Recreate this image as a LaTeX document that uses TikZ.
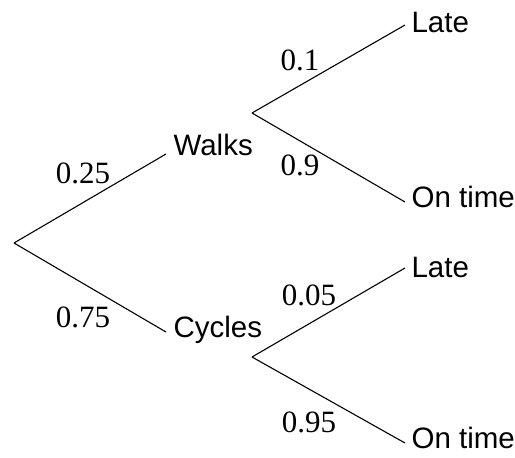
\documentclass[tikz,border=0pt]{standalone}
\usepackage{fontspec}
\setmainfont{Liberation Serif}
\newfontfamily\arialfont{Liberation Sans}

\begin{document}
\begin{tikzpicture}[x=1pt,y=-1pt,line width=1.1pt,
        outcome/.style={anchor=base west, inner sep=0pt, font=\arialfont\fontsize{29.5}{31}\selectfont},
        prob/.style={anchor=base, inner sep=0pt, font=\fontsize{31}{33}\selectfont}]
        \useasboundingbox (0,0) rectangle (515,458);

        % branch points
        \coordinate (root) at (14,243);
        \coordinate (w) at (166,154);
        \coordinate (c) at (166,332);
        \coordinate (wfork) at (252,113);
        \coordinate (cfork) at (252,357);
        \coordinate (wl) at (405,25);
        \coordinate (wo) at (405,202);
        \coordinate (cl) at (405,268);
        \coordinate (co) at (405,443);

        \node[outcome] (walks) at (173,155) {Walks};
        \node[outcome] (cycles) at (173,337) {Cycles};
        \node[outcome] (wlate) at (411,32) {Late};
        \node[outcome] (wontime) at (411,207) {On time};
        \node[outcome] (clate) at (411,277) {Late};
        \node[outcome] (contime) at (411,448) {On time};

        \draw (root) -- (w) node[prob] at (83,183) {0.25};
        \draw (root) -- (c) node[prob] at (83,327) {0.75};
        \draw (wfork) -- (wl) node[prob] at (300,70) {0.1};
        \draw (wfork) -- (wo) node[prob] at (300,175) {0.9};
        \draw (cfork) -- (cl) node[prob] at (309,305) {0.05};
        \draw (cfork) -- (co) node[prob] at (309,432) {0.95};
    \end{tikzpicture}
\end{document}
